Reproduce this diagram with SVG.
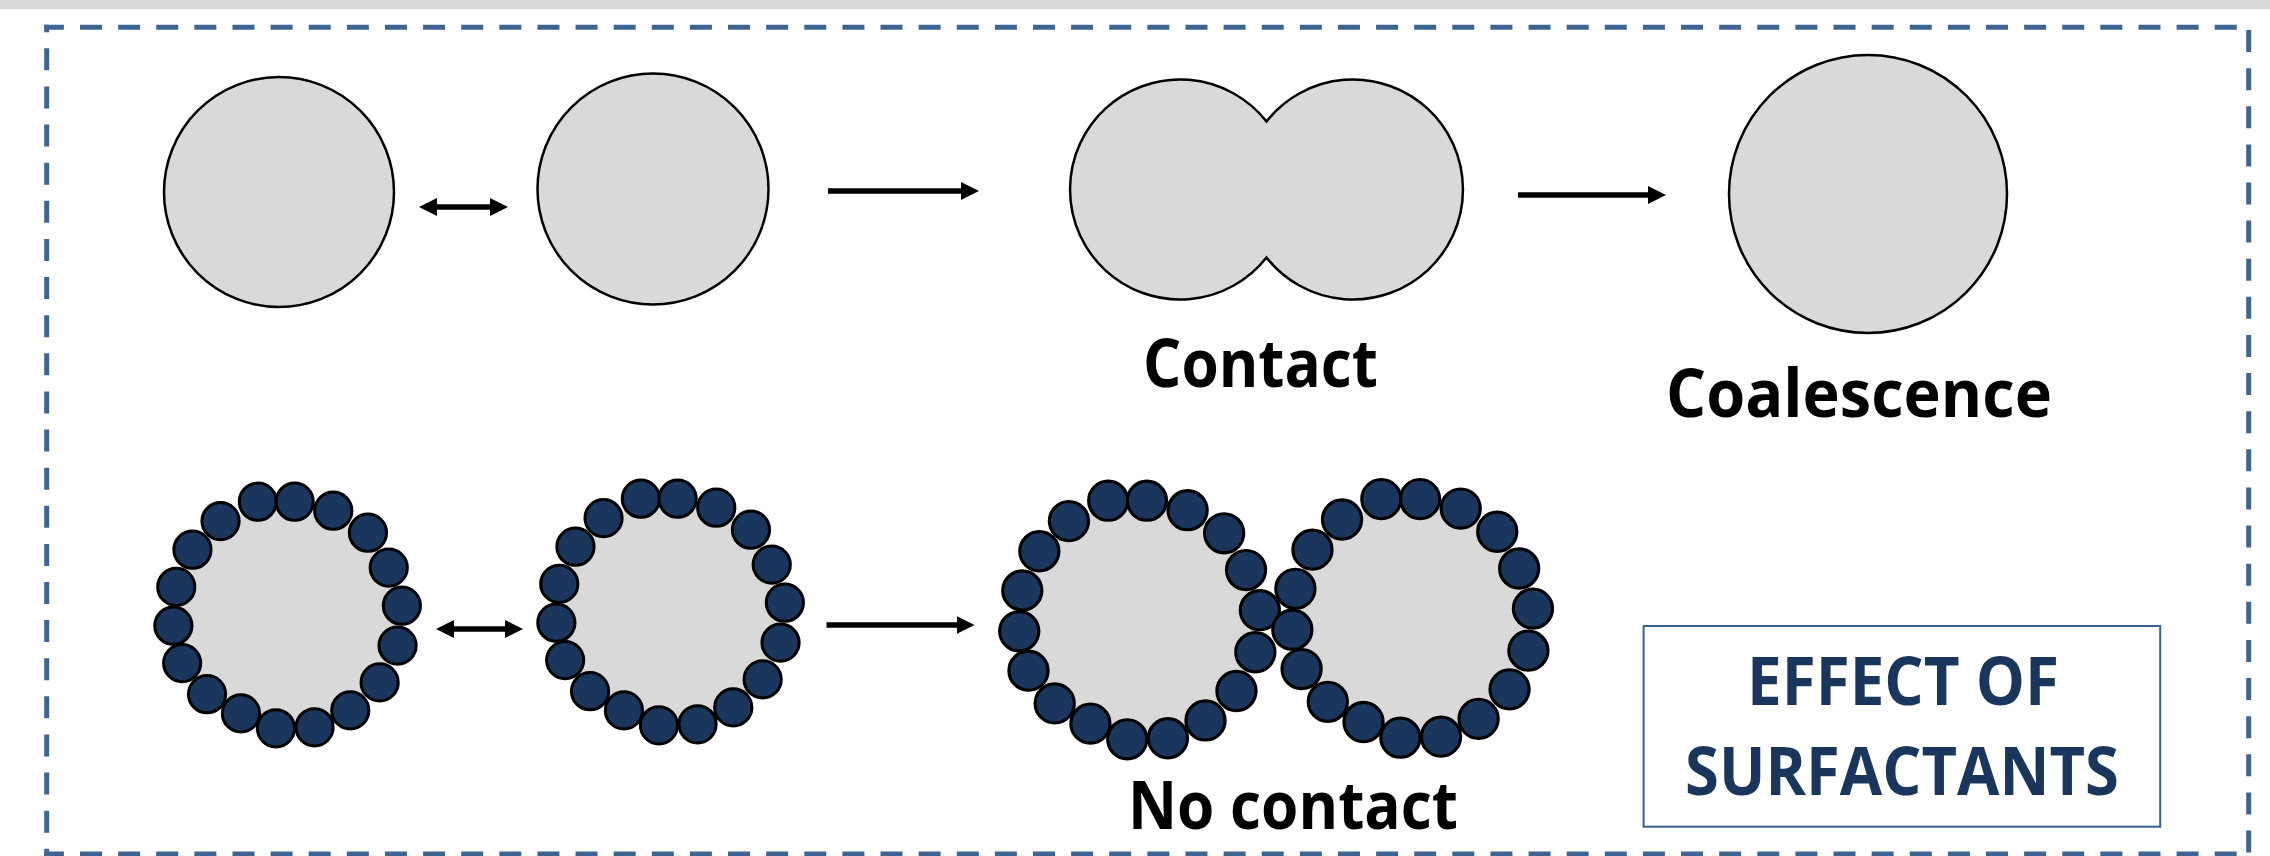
<svg xmlns="http://www.w3.org/2000/svg" xmlns:xlink="http://www.w3.org/1999/xlink" width="2270" height="856" viewBox="0 0 2270 856">
<style>
.drop{fill:#D9D9D9;stroke:#000;stroke-width:2.5}
.core{fill:#D9D9D9}
.bead{fill:#1A365D;stroke:#000;stroke-width:3}
.frame{stroke:#3E6494;stroke-width:5;fill:none;stroke-dasharray:22 16.12}
.conn{stroke:#000;stroke-width:5.5;fill:none}
.lbl{font-family:"Open Sans","Liberation Sans",sans-serif;font-weight:bold;font-size:66px;fill:#000;text-anchor:middle}
.title{font-family:"Open Sans","Liberation Sans",sans-serif;font-weight:bold;font-size:66px;fill:#1A365D;text-anchor:middle}
</style>
<defs>
<marker id="ah" markerUnits="userSpaceOnUse" markerWidth="18" markerHeight="18" viewBox="0 0 18 18" refX="9" refY="9" orient="auto-start-reverse">
<path d="M0,0 L18,9 L0,18 z" fill="#000"/>
</marker>
<g id="ring">
<circle class="core" cx="0" cy="0" r="112"/>
<circle class="bead" cx="-29.9" cy="-113.3" r="18.6"/>
<circle class="bead" cx="6.9" cy="-113.3" r="18.6"/>
<circle class="bead" cx="45.5" cy="-104.3" r="18.6"/>
<circle class="bead" cx="80.2" cy="-82.3" r="18.6"/>
<circle class="bead" cx="101" cy="-47.4" r="18.6"/>
<circle class="bead" cx="114.1" cy="-9.3" r="18.6"/>
<circle class="bead" cx="109.8" cy="30.6" r="18.6"/>
<circle class="bead" cx="91.9" cy="67.4" r="18.6"/>
<circle class="bead" cx="62.5" cy="95.4" r="18.6"/>
<circle class="bead" cx="26.8" cy="112.3" r="18.6"/>
<circle class="bead" cx="-11.8" cy="113.3" r="18.6"/>
<circle class="bead" cx="-46.8" cy="98.4" r="18.6"/>
<circle class="bead" cx="-80.7" cy="79.2" r="18.6"/>
<circle class="bead" cx="-105.6" cy="48.1" r="18.6"/>
<circle class="bead" cx="-114.4" cy="10.7" r="18.6"/>
<circle class="bead" cx="-111.5" cy="-28.1" r="18.6"/>
<circle class="bead" cx="-95.3" cy="-65.3" r="18.6"/>
<circle class="bead" cx="-67.2" cy="-93.9" r="18.6"/>
</g>
</defs>
<rect x="0" y="0" width="2270" height="856" fill="#FFFFFF"/>
<rect x="0" y="0" width="2270" height="9.3" fill="#D9D9D9"/>
<g id="frame">
<line class="frame" x1="44.2" y1="27.3" x2="2251.2" y2="27.3" stroke-dashoffset="2.32"/>
<line class="frame" x1="46.7" y1="24.8" x2="46.7" y2="856" stroke-dashoffset="14.6"/>
<line class="frame" x1="2248.7" y1="24.8" x2="2248.7" y2="856" stroke-dashoffset="32.9"/>
<line class="frame" x1="44.2" y1="854" x2="2251.2" y2="854" stroke-dashoffset="2.32"/>
</g>
<g id="drop-top-1"><circle class="drop" cx="279" cy="192" r="115"/></g>
<g id="drop-top-2"><circle class="drop" cx="653" cy="189" r="115.5"/></g>
<g id="drop-contact">
<path class="drop" d="M1266.5,121.5 A110,110 0 1,0 1266.5,257.5 A110,110 0 1,0 1266.5,121.5 Z"/>
<text class="lbl" x="1260.5" y="387" textLength="235" lengthAdjust="spacingAndGlyphs">Contact</text>
</g>
<g id="drop-coalescence">
<circle class="drop" cx="1868" cy="194" r="139"/>
<text class="lbl" x="1859" y="417" textLength="386" lengthAdjust="spacingAndGlyphs">Coalescence</text>
</g>
<g id="drop-surf-1"><use xlink:href="#ring" href="#ring" transform="translate(287.75,615)"/></g>
<g id="drop-surf-2"><use xlink:href="#ring" href="#ring" transform="translate(670.75,612)"/></g>
<g id="drop-surf-pair">
<use xlink:href="#ring" href="#ring" transform="translate(1139.7,620) scale(1.053)"/>
<use xlink:href="#ring" href="#ring" transform="translate(1412.8,618.4) scale(1.053)"/>
<text class="lbl" x="1293" y="829" textLength="330" lengthAdjust="spacingAndGlyphs">No contact</text>
</g>
<g id="title-box">
<rect x="1643.6" y="626" width="516.6" height="200.7" fill="#FFFFFF" stroke="#3A5F95" stroke-width="2"/>
<text class="title" x="1903" y="705" textLength="312" lengthAdjust="spacingAndGlyphs">EFFECT OF</text>
<text class="title" x="1902" y="795" textLength="434" lengthAdjust="spacingAndGlyphs">SURFACTANTS</text>
</g>
<g id="connectors">
<line class="conn" x1="428" y1="207" x2="499" y2="207" marker-start="url(#ah)" marker-end="url(#ah)"/>
<line class="conn" x1="828" y1="191" x2="970" y2="191" marker-end="url(#ah)"/>
<line class="conn" x1="1518" y1="195" x2="1657" y2="195" marker-end="url(#ah)"/>
<line class="conn" x1="445" y1="629" x2="514" y2="629" marker-start="url(#ah)" marker-end="url(#ah)"/>
<line class="conn" x1="826.5" y1="625" x2="965.5" y2="625" marker-end="url(#ah)"/>
</g>
</svg>
